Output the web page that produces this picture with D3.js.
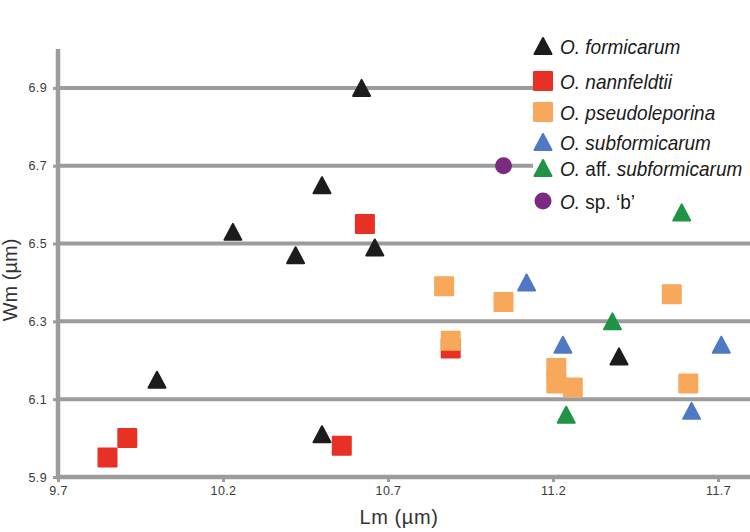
<!DOCTYPE html>
<html>
<head>
<meta charset="utf-8">
<script src="https://cdn.jsdelivr.net/npm/d3@7"></script>
<style>
  html, body { margin: 0; padding: 0; background: #fff; }
  svg { display: block; }
  text { font-family: "Liberation Sans", Arial, Helvetica, sans-serif; }
</style>
</head>
<body>
<svg id="chart" width="750" height="532"></svg>
<script>
// ---------------- data ----------------
const xTicks = [9.7, 10.2, 10.7, 11.2, 11.7];
const yTicks = [5.9, 6.1, 6.3, 6.5, 6.7, 6.9];

const formicarumLm     = [10.62, 10.50, 10.23, 10.42, 10.66, 10.00, 10.50, 11.40];
const formicarumWm     = [6.90, 6.65, 6.53, 6.47, 6.49, 6.15, 6.01, 6.21];
const nannfeldtiiLm    = [10.63, 9.91, 9.85, 10.56, 10.89];
const nannfeldtiiWm    = [6.55, 6.00, 5.95, 5.98, 6.23];
const pseudoleporinaLm = [10.87, 11.05, 11.56, 10.89, 11.21, 11.21, 11.26, 11.61];
const pseudoleporinaWm = [6.39, 6.35, 6.37, 6.25, 6.18, 6.14, 6.13, 6.14];
const subformicarumLm  = [11.12, 11.23, 11.71, 11.62];
const subformicarumWm  = [6.40, 6.24, 6.24, 6.07];
const affSubformicarumLm = [11.59, 11.38, 11.24];
const affSubformicarumWm = [6.58, 6.30, 6.06];
const spBLm = [11.05];
const spBWm = [6.70];

// legend labels: [text, italic]
const legendLabels = [
  [["O. formicarum", true]],
  [["O. nannfeldtii", true]],
  [["O. pseudoleporina", true]],
  [["O. subformicarum", true]],
  [["O.", true], [" aff. ", false], ["subformicarum", true]],
  [["O.", true], [" sp. \u2018b\u2019", false]]
];

const seriesList = [
  {name: "formicarum", lm: formicarumLm, wm: formicarumWm, shape: "triangle", color: "#1c1c1c"},
  {name: "nannfeldtii", lm: nannfeldtiiLm, wm: nannfeldtiiWm, shape: "square", color: "#e83125"},
  {name: "pseudoleporina", lm: pseudoleporinaLm, wm: pseudoleporinaWm, shape: "square", color: "#f7a85a"},
  {name: "subformicarum", lm: subformicarumLm, wm: subformicarumWm, shape: "triangle", color: "#5079c3"},
  {name: "affSubformicarum", lm: affSubformicarumLm, wm: affSubformicarumWm, shape: "triangle", color: "#1f9447"},
  {name: "spB", lm: spBLm, wm: spBWm, shape: "circle", color: "#7a2a80"}
];

// ---------------- layout ----------------
const svg = d3.select("#chart");
const X0 = 58, X1 = 751, Y0 = 477, Y1 = 49;
const x = d3.scaleLinear().domain([9.7, 11.8]).range([X0, X1]);
const y = d3.scaleLinear().domain([5.9, 7.0]).range([Y0, Y1]);

const GRID = "#9c9c9c";

// gridlines
svg.append("g").selectAll("line")
  .data(yTicks.filter(v => v > 5.9))
  .join("line")
  .attr("x1", X0).attr("x2", 750)
  .attr("y1", d => y(d)).attr("y2", d => y(d))
  .attr("stroke", GRID).attr("stroke-width", 4);

// legend background (hides gridlines)
svg.append("rect").attr("x", 533).attr("y", 28).attr("width", 217).attr("height", 190).attr("fill", "#fff");

// axes
const xAxis = d3.axisBottom(x).tickValues(xTicks).tickFormat(d3.format(".1f")).tickSize(5).tickSizeOuter(0).tickPadding(4);
const yAxis = d3.axisLeft(y).tickValues(yTicks).tickFormat(d3.format(".1f")).tickSize(5).tickSizeOuter(0).tickPadding(6);

const gx = svg.append("g").attr("transform", `translate(0,${Y0})`).call(xAxis);
const gy = svg.append("g").attr("transform", `translate(${X0},0)`).call(yAxis);

[gx, gy].forEach(g => {
  g.select(".domain").attr("stroke", GRID).attr("stroke-width", 4.5);
  g.selectAll(".tick line").attr("stroke", GRID).attr("stroke-width", 3);
  g.selectAll(".tick text").attr("fill", "#3a3a3a").style("font-size", "12.5px")
    .style("letter-spacing", "0.4px").style("font-family", "\"Liberation Sans\", Arial, sans-serif");
});
gy.select(".domain").attr("d", `M0,${Y0 + 2}V${Y1}`);
gx.select(".domain").attr("d", `M${X0 - 2},0H750`);

// axis titles
svg.append("text").attr("x", 399).attr("y", 524).attr("text-anchor", "middle")
  .style("font-size", "20px").style("letter-spacing", "0.6px").attr("fill", "#333").text("Lm (\u00b5m)");
svg.append("text").attr("transform", "translate(17,280) rotate(-90)").attr("text-anchor", "middle")
  .style("font-size", "20px").attr("fill", "#333").text("Wm (\u00b5m)");

// ---------------- symbols ----------------
function drawSymbol(sel, shape, color) {
  if (shape === "triangle") {
    const w = 17, h = 16;
    sel.append("path")
      .attr("d", `M0,${-h / 2}L${w / 2},${h / 2}L${-w / 2},${h / 2}Z`)
      .attr("fill", color).attr("stroke", color).attr("stroke-width", 2).attr("stroke-linejoin", "round");
  } else if (shape === "square") {
    const s = 18;
    sel.append("rect").attr("x", -s / 2).attr("y", -s / 2).attr("width", s).attr("height", s)
      .attr("fill", color).attr("stroke", color).attr("stroke-width", 2).attr("stroke-linejoin", "round");
  } else {
    sel.append("circle").attr("r", 8.5).attr("fill", color);
  }
}

// points
seriesList.forEach(s => {
  const pts = s.lm.map((v, i) => ({lm: v, wm: s.wm[i]}));
  svg.append("g").selectAll("g")
    .data(pts)
    .join("g")
    .attr("transform", d => `translate(${x(d.lm)},${y(d.wm)})`)
    .each(function () { drawSymbol(d3.select(this), s.shape, s.color); });
});

// legend
const legendY = [46, 81, 112, 142, 168, 201];
const lg = svg.append("g");
seriesList.forEach((s, i) => {
  const row = lg.append("g").attr("transform", `translate(543,${legendY[i]})`);
  drawSymbol(row, s.shape, s.color);
  const t = lg.append("text")
    .attr("transform", `translate(560,${legendY[i] + 8}) scale(0.95,1)`)
    .style("font-size", "20px").attr("fill", "#1a1a1a");
  legendLabels[i].forEach(([txt, it]) => {
    t.append("tspan").style("font-style", it ? "italic" : "normal").attr("xml:space", "preserve").text(txt);
  });
});
</script>
</body>
</html>
